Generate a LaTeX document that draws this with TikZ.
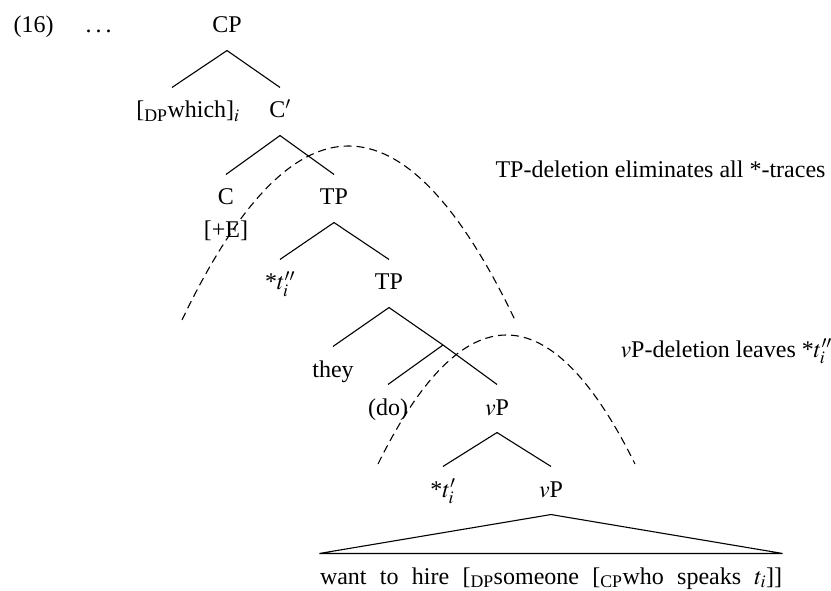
\documentclass[tikz,border=0pt]{standalone}
\usepackage{mathptmx}
\usepackage[no-math]{fontspec}
\setmainfont{Liberation Serif}
\usepackage{tikz}

\begin{document}
\begin{tikzpicture}[x=1pt,y=-1pt,line width=1.1pt,
  every node/.style={font=\fontsize{24}{28}\selectfont},
  lab/.style={anchor=base,inner xsep=0pt,inner ysep=12pt,text height=18pt,text depth=5pt},
  txt/.style={anchor=base west,inner sep=0pt},
  ell/.style={dash pattern=on 8pt off 5pt,line width=1.1pt}]
\useasboundingbox (0,0) rectangle (831,591);
% example number
\node[txt] (num) at (13,33) {(16)};
\node[txt] (dots) at (85,33) {.\,.\,.};
% tree
\node[lab] (cp) at (227,33) {CP};
\node[lab] (which) at (188,118) {[\textsubscript{DP}which]$_i$};
\node[lab] (cbar) at (280,118) {C$'$};
\node[lab] (c) at (226,205) {C};
\node[txt,anchor=base] (cfeat) at (226,238) {[+E]};
\node[lab] (tp1) at (334,205) {TP};
\node[lab] (trace2) at (280,290) {*$t''_i$};
\node[lab] (tp2) at (389,290) {TP};
\coordinate (tbar) at (443,345);
\node[lab] (they) at (333,377) {they};
\node[lab] (do) at (388,415) {(do)};
\node[lab] (vp1) at (497,415) {$v$P};
\node[lab] (trace1) at (443,497) {*$t'_i$};
\node[lab] (vp2) at (551,497) {$v$P};
\node[lab] (hire) at (551,584) {\makebox[462pt][s]{want to hire [\textsubscript{DP}someone [\textsubscript{CP}who speaks $t_i$]]}};
\draw (cp.south) -- ([xshift=-16pt]which.north);
\draw (cp.south) -- (cbar.north);
\draw (cbar.south) -- (c.north);
\draw (cbar.south) -- (tp1.north);
\draw (tp1.south) -- (trace2.north);
\draw (tp1.south) -- (tp2.north);
\draw (tp2.south) -- (they.north);
\draw (tp2.south) -- (tbar) -- (vp1.north);
\draw (tbar) -- (do.north);
\draw (vp1.south) -- (trace1.north);
\draw (vp1.south) -- (vp2.north);
\draw (vp2.south) -- (hire.north west) -- (hire.north east) -- cycle;
% deletion sites
\coordinate (tpl) at (182,320);
\coordinate (tpr) at (515,320);
\coordinate (vpl) at (378,464);
\coordinate (vpr) at (635,464);
\draw[ell] (tpl) .. controls (293,88) and (404,88) .. (tpr);
\draw[ell] (vpl) .. controls (463,292) and (550,292) .. (vpr);
\node[txt] (note1) at (495,178) {TP-deletion eliminates all *-traces};
\node[txt] (note2) at (620,357) {$v$P-deletion leaves *$t''_i$};
\end{tikzpicture}
\end{document}
